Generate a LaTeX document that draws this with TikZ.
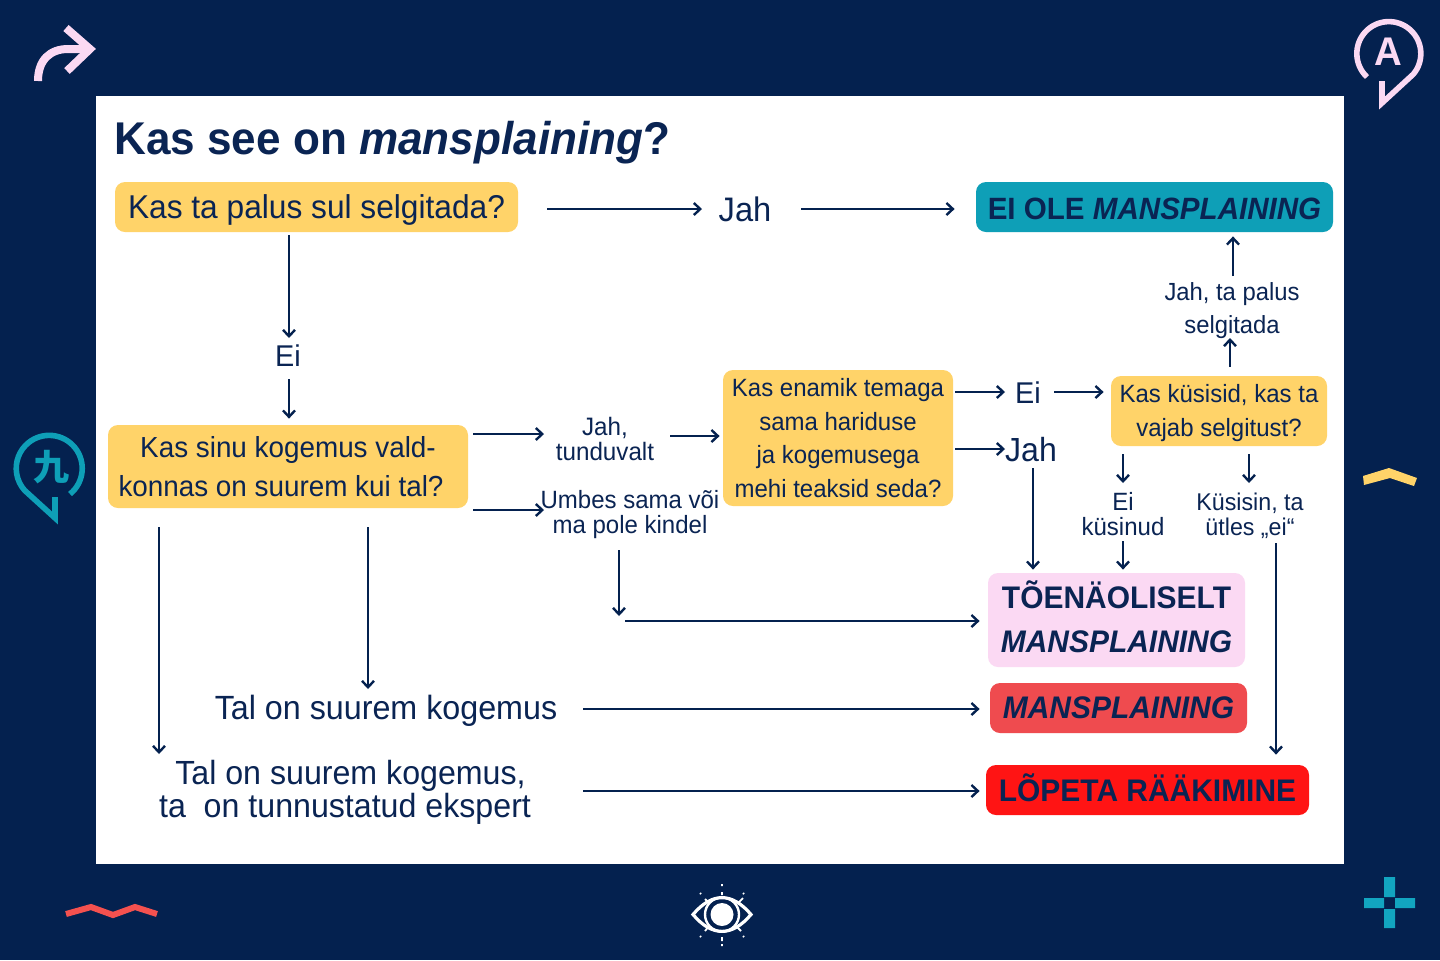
\documentclass[tikz,border=0pt]{standalone}
\usepackage{fontspec}
\setmainfont[FakeStretch=0.96]{Liberation Sans}
\newfontfamily\cjk{Noto Sans CJK SC}
\usetikzlibrary{arrows.meta}
\definecolor{navy}{HTML}{04214F}
\definecolor{ink}{HTML}{0A2453}
\definecolor{yel}{HTML}{FFD369}
\definecolor{tealb}{HTML}{0E9FB7}
\definecolor{pinkb}{HTML}{FBD9F3}
\definecolor{redb}{HTML}{EF4B4F}
\definecolor{redc}{HTML}{FF1414}
\definecolor{plus}{HTML}{12A5C0}
\definecolor{wave}{HTML}{F4514F}
\tikzset{
 arr/.style={draw=navy,line width=1.45pt,-{Straight Barb[length=3.2pt,width=6pt,line width=1.2pt]}},
 box/.style={rounded corners=5pt,inner sep=0pt,align=center,text=ink},
 lab/.style={inner sep=0pt,align=center,text=ink},
 res/.style={box,font=\fontsize{15.6}{22}\selectfont\bfseries}
}
\begin{document}
\begin{tikzpicture}[x=.5pt,y=-.5pt]
\useasboundingbox (0,0) rectangle (1440,960);
\fill[navy] (0,0) rectangle (1440,960);
\fill[white] (96,96) rectangle (1344,864);
% decorations
\draw[pinkb,line width=4pt] (38,81) .. controls (38,60) and (50,49) .. (68,49) -- (90,49);
\draw[pinkb,line width=4pt,line join=miter] (66,28) -- (90,49) -- (67,71);
\draw[pinkb,line width=2.8pt,line join=miter,miter limit=10] (1367,77) arc[start angle=133,end angle=400,radius=32] -- (1382,103) -- (1382,81);
\node[text=pinkb,inner sep=0pt,font=\fontsize{20}{20}\selectfont\bfseries] (logoA) at (1388,52) {A};
\draw[tealb,line width=2.8pt,line join=miter,miter limit=10] (70,494) arc[start angle=51,end angle=-222,radius=33] -- (55,518) -- (55,497);
\node[text=tealb,inner sep=0pt,font=\fontsize{18}{18}\selectfont\cjk\bfseries] (logoK) at (51,467) {九};
\fill[yel] (1363,476) -- (1389,468) -- (1417,478) -- (1414,486) -- (1390,478) -- (1364,485) -- cycle;
\fill[plus] (1384,877) rectangle (1395,897) (1384,909) rectangle (1395,928) (1364,898) rectangle (1384,908) (1395,898) rectangle (1415,908);
\draw[wave,line width=3pt,line join=miter] (66,914) -- (91,907) -- (113,915) -- (135,907) -- (157,914);
\draw[white,line width=1.6pt,line join=miter] (693,914.5) .. controls (712,892) and (732,892) .. (751,914.5) .. controls (732,937) and (712,937) .. (693,914.5) -- cycle;
\draw[white,line width=1.2pt] (722,914.5) circle[radius=17];
\fill[white] (722,914.5) circle[radius=11.5];
\draw[white,line width=.9pt] (722,892) -- (722,895) (722,884) -- (722,886) (722,937) -- (722,941) (722,944) -- (722,946)
 (705,899) -- (709,903) (738,903) -- (743,898) (705,931) -- (709,926) (736,926) -- (741,931) (700,893) -- (701,894) (743,893) -- (744,894) (700,936) -- (701,937) (743,936) -- (744,937);
% title
\node[lab,anchor=base west,text=ink,font=\fontsize{22.95}{26}\selectfont\bfseries] (title) at (114,154) {Kas see on \itshape mansplaining\upshape ?};
% boxes
\node[box,fill=yel,minimum width=201.5pt,minimum height=25pt,text height=15pt,text depth=3.5pt,font=\fontsize{16.5}{20}\selectfont] (q1) at (316.5,207) {Kas ta palus sul selgitada?};
\node[res,fill=tealb,minimum width=178.5pt,minimum height=25pt,text height=12.4pt,text depth=.1pt,font=\fontsize{15.4}{22}\selectfont\bfseries] (r1) at (1154.5,207) {EI OLE \itshape MANSPLAINING};
\node[box,fill=yel,minimum width=180pt,minimum height=41.5pt,font=\fontsize{14.5}{19.5}\selectfont] (q2) at (288,466.5) {Kas sinu kogemus vald-\\konnas on suurem kui tal?\hspace*{7pt}};
\node[box,fill=yel,minimum width=115pt,minimum height=68pt,font=\fontsize{12.5}{16.7}\selectfont] (q3) at (838,438) {Kas enamik temaga\\sama hariduse\hspace*{2.5pt}\\ja kogemusega\\mehi teaksid seda?};
\node[box,fill=yel,minimum width=108pt,minimum height=35pt,font=\fontsize{12.5}{17}\selectfont] (q4) at (1219,411) {\rule{0pt}{11.5pt}Kas küsisid, kas ta\\vajab selgitust?};
\node[box,fill=pinkb,minimum width=128.5pt,minimum height=47pt,font=\fontsize{15.6}{22}\selectfont\bfseries] (r2) at (1116.5,620) {TÕENÄOLISELT\\\itshape MANSPLAINING\rule[-3.8pt]{0pt}{0pt}};
\node[res,fill=redb,minimum width=128.5pt,minimum height=25pt] (r3) at (1118.5,708) {\itshape MANSPLAINING};
\node[res,fill=redc,minimum width=161.5pt,minimum height=25pt,text depth=2pt] (r4) at (1147.5,790) {LÕPETA RÄÄKIMINE};
% labels
\node[lab,font=\fontsize{17}{20}\selectfont] (jah) at (745,209) {Jah};
\node[lab,font=\fontsize{15}{20}\selectfont] (ei) at (288,356) {Ei};
\node[lab,font=\fontsize{12.6}{12.5}\selectfont] (jt) at (605,439) {Jah,\\tunduvalt};
\node[lab,font=\fontsize{12.5}{12.5}\selectfont] (us) at (630,515) {Umbes sama või\\ma pole kindel};
\node[lab,font=\fontsize{15}{20}\selectfont] (ei2) at (1028,393) {Ei};
\node[lab,font=\fontsize{16.7}{20}\selectfont] (jah2) at (1031,450) {Jah};
\node[lab,font=\fontsize{12.4}{16.5}\selectfont] (jp) at (1232,311) {Jah, ta palus\\selgitada};
\node[lab,font=\fontsize{12.5}{12.5}\selectfont] (eik) at (1123,514) {Ei\\küsinud};
\node[lab,font=\fontsize{12.1}{12.5}\selectfont] (kus) at (1250,515.5) {Küsisin, ta\\ütles „ei“};
\node[lab,font=\fontsize{16.8}{20}\selectfont] (t1) at (386,711) {Tal on suurem kogemus};
\node[lab,font=\fontsize{16.75}{15}\selectfont] (t2) at (345,792.5) {\hspace*{5.5pt}Tal on suurem kogemus,\\ta\ \ on tunnustatud ekspert};
\coordinate (c1) at (619,616);
\coordinate (c2) at (625,621);
% connectors
\draw[arr] ([shift={(29,2)}]q1.east) -- ([shift={(-43,0)}]jah.center);
\draw[arr] ([shift={(56,0)}]jah.center) -- ([shift={(-21,2)}]r1.west);
\draw[arr] ([shift={(-27.5,3)}]q1.south) -- ([shift={(1,-18)}]ei.center);
\draw[arr] ([shift={(1,23)}]ei.center) -- ([shift={(1,-6)}]q2.north);
\draw[arr] ([shift={(5,-32.5)}]q2.east) -- ([shift={(-61,-5)}]jt.center);
\draw[arr] ([shift={(65,-3)}]jt.center) -- ([shift={(-3,-2)}]q3.west);
\draw[arr] ([shift={(5,43.5)}]q2.east) -- ([shift={(-86,-5)}]us.center);
\draw[arr] ([shift={(-11,35)}]us.center) -- (c1);
\draw[arr] (c2) -- ([shift={(-8,1)}]r2.west);
\draw[arr] ([shift={(2,-46)}]q3.east) -- ([shift={(-23,-1)}]ei2.center);
\draw[arr] ([shift={(26,-1)}]ei2.center) -- ([shift={(-7,-19)}]q4.west);
\draw[arr] ([shift={(2,11)}]q3.east) -- ([shift={(-26,-1)}]jah2.center);
\draw[arr] ([shift={(2,18)}]jah2.center) -- ([shift={(-83.5,-3)}]r2.north);
\draw[arr] ([shift={(-96,8)}]q4.south) -- ([shift={(0,-31)}]eik.center);
\draw[arr] ([shift={(0,27)}]eik.center) -- ([shift={(6.5,-3)}]r2.north);
\draw[arr] ([shift={(30,8)}]q4.south) -- ([shift={(-1,-32.5)}]kus.center);
\draw[arr] ([shift={(26,27.5)}]kus.center) -- ([shift={(128.5,-10)}]r4.north);
\draw[arr] ([shift={(11,-9)}]q4.north) -- ([shift={(-2,27)}]jp.center);
\draw[arr] ([shift={(1,-35)}]jp.center) -- ([shift={(78.5,4)}]r1.south);
\draw[arr] ([shift={(-129,19)}]q2.south) -- ([shift={(-186,-38.5)}]t2.center);
\draw[arr] ([shift={(80,19)}]q2.south) -- ([shift={(-18,-22)}]t1.center);
\draw[arr] ([shift={(197,-2)}]t1.center) -- ([shift={(-10,1)}]r3.west);
\draw[arr] ([shift={(238,-1.5)}]t2.center) -- ([shift={(-6,1)}]r4.west);
\end{tikzpicture}
\end{document}
